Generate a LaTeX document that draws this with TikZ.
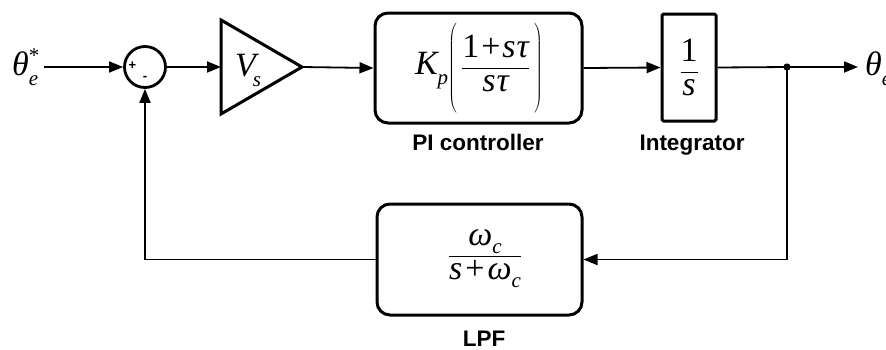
\documentclass[tikz,border=0pt]{standalone}
\usepackage{fontspec}
\setmainfont{Liberation Serif}
\newfontfamily\labelfont{Liberation Sans}
\usetikzlibrary{arrows.meta}

% sizes for the block formulas
\newcommand\mathsz{\fontsize{34}{40}\selectfont}
\newcommand\subsz{\fontsize{21}{24}\selectfont}
\newcommand\iv[1]{{\itshape #1}}
\newcommand\lowsub[2]{\raisebox{#1}{\subsz\itshape #2}}

\begin{document}
\begin{tikzpicture}[x=1pt,y=-1pt,
  wire/.style={line width=1.8pt},
  sig/.style={wire,-{Triangle[length=14pt,width=11pt]}},
  blockbox/.style={draw,line width=3pt,inner sep=0pt},
  caption/.style={font=\labelfont\bfseries\fontsize{22.5}{26}\selectfont,anchor=base},
  eq/.style={font=\mathsz,inner sep=0pt}]
\useasboundingbox (0,0) rectangle (886,349);

% input and output signals
\node[eq,anchor=base west] (ref) at (12,75) {\iv{θ}\rlap{\raisebox{13pt}{\subsz *}}\lowsub{-10pt}{e}};
\node[eq,anchor=base west] (out) at (865,75) {\iv{θ}\lowsub{-10pt}{e}};

% summing junction
\node[draw,circle,line width=2.8pt,minimum size=41pt,inner sep=0pt] (sum) at (145,67) {};
\node[font=\labelfont\bfseries\fontsize{13}{14}\selectfont,inner sep=0pt] (plus) at (132.5,66) {+};
\node[font=\labelfont\bfseries\fontsize{13}{14}\selectfont,inner sep=0pt] (minus) at (145,78) {-};

% gain (triangle)
\draw[line width=3pt,line join=miter] (221,20) -- (302,67) -- (221,114) -- cycle;
\coordinate (ampin) at (221,67);
\coordinate (ampout) at (302,67);
\node[eq,anchor=base west] (gain) at (235,76) {\iv{V}\kern-3pt\lowsub{-10pt}{s}};

% PI controller
\node[blockbox,rounded corners=13pt,minimum width=207pt,minimum height=110pt] (pi) at (478.5,68) {};
\node[eq] (pieq) at (479,69) {\iv{K}\lowsub{-10pt}{p}$\displaystyle\left(\rule[-40pt]{0pt}{80pt}\,\frac{\hbox{\mathsz 1\kern2pt+\kern2pt\itshape s\kern1pt τ}}{\hbox{\mathsz\itshape s\kern1pt τ}}\,\right)$};
\node[caption] (picap) at (478,150) {PI controller};

% integrator
\node[blockbox,rounded corners=1.5pt,minimum width=54pt,minimum height=107pt] (int) at (689,67.5) {};
\node[eq] (inteq) at (689,67) {$\displaystyle\frac{\hbox{\mathsz 1}}{\hbox{\mathsz\itshape s}}$};
\node[caption] (intcap) at (692,150) {Integrator};

% low-pass filter
\node[blockbox,rounded corners=13pt,minimum width=205pt,minimum height=111pt] (lpf) at (479.5,259.5) {};
\node[eq] (lpfeq) at (485,259) {$\displaystyle\frac{\hbox{\mathsz\itshape ω\lowsub{-8pt}{c}}}{\hbox{\mathsz\itshape s\kern3pt\upshape+\kern3pt\itshape ω\lowsub{-8pt}{c}}}$};
\node[caption] (lpfcap) at (484,346) {LPF};

% branch point and feedback corners
\coordinate (branch) at (787,67);
\coordinate (fbright) at (787,259.5);
\coordinate (fbleft) at (145,259.5);
\fill (branch) circle (3.6pt);

% connectors
\draw[sig] (ref.east |- sum) ++(6,0) coordinate (refend) -- (sum.west);
\draw[sig] (sum.east) -- (ampin);
\draw[sig] (ampout) -- (pi.west);
\draw[sig] (pi.east) -- (int.west);
\draw[wire] (int.east) -- (branch);
\draw[sig] (branch) -- (858,67) coordinate (outend);
\draw[sig] (branch) -- (fbright) -- (lpf.east);
\draw[sig] (lpf.west) -- (fbleft) -- (sum.south);
\end{tikzpicture}
\end{document}
